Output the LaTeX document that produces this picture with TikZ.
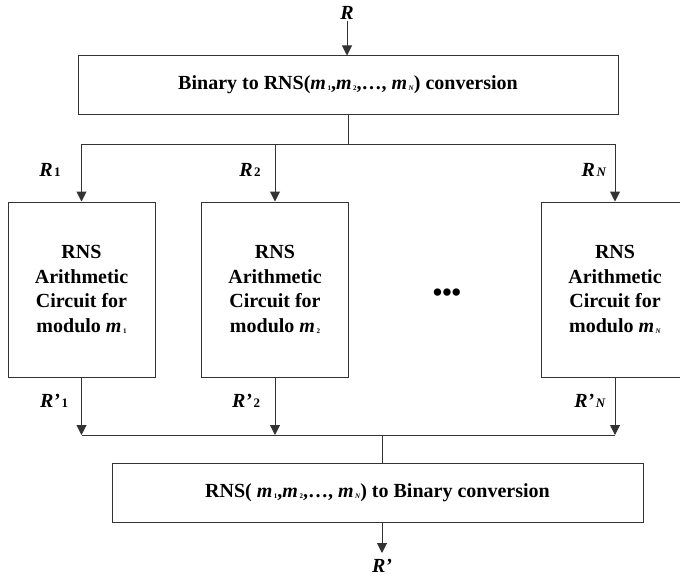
\documentclass[tikz,border=0pt]{standalone}
\usepackage{fontspec}
\setmainfont{Liberation Serif}
\usetikzlibrary{arrows.meta}

% bold italic modulus with a tiny subscript
\newcommand{\bim}{\textbf{\textit{m}}}
\newcommand{\msub}[1]{\bim\hspace{1.5pt}\raisebox{-0.1ex}{\fontsize{7}{7}\selectfont\bfseries #1}}
% bold italic signal name with a small subscript
\newcommand{\rsub}[2]{\textbf{\textit{#1}}\hspace{1.5pt}{\fontsize{13}{13}\selectfont\bfseries #2}}

\begin{document}
\begin{tikzpicture}[x=1pt,y=-1pt,
  wire/.style={draw=black!80,line width=1pt},
  arr/.style={wire,-{Triangle[length=10pt,width=10pt]}},
  block/.style={draw=black!80,line width=1pt,inner sep=0pt,align=center,
                font=\fontsize{20}{24.5}\selectfont\bfseries},
  lbl/.style={inner sep=1pt,font=\fontsize{20}{24}\selectfont\bfseries}]
\useasboundingbox (0,0) rectangle (680,578);

% input and forward conversion
\node[lbl] (rin) at (347,13) {\textit{R}};
\node[block,minimum width=540pt,minimum height=58pt] (conv) at (348,85)
  {Binary to RNS(\msub{1},\msub{2},…, \msub{\textit{N}}) conversion};
\coordinate (split) at (348,144);

% residue channels
\node[block,minimum width=147pt,minimum height=175pt] (c1) at (81.5,289.5)
  {RNS\\Arithmetic\\Circuit for\\modulo \msub{1}};
\node[block,minimum width=147pt,minimum height=175pt] (c2) at (275,289.5)
  {RNS\\Arithmetic\\Circuit for\\modulo \msub{2}};
\node[block,minimum width=147pt,minimum height=175pt] (cN) at (615,289.5)
  {RNS\\Arithmetic\\Circuit for\\modulo \msub{\textit{N}}};
\node[inner sep=0pt,font=\fontsize{27}{27}\selectfont\bfseries] (dots) at (447,295) {•••};

% reverse conversion and output
\coordinate (merge) at (382,435);
\node[block,minimum width=531pt,minimum height=59pt] (back) at (377.5,492.5)
  {RNS( \msub{1},\msub{2},…, \msub{\textit{N}}) to Binary conversion};
\node[lbl,inner sep=0pt] (rout) at (382,566) {\textit{R’}};
\coordinate (outtip) at (382,553);

% channel labels
\node[lbl] (r1) at (50,170) {\rsub{R}{1}};
\node[lbl] (r2) at (250,170) {\rsub{R}{2}};
\node[lbl] (rN) at (594,170) {\rsub{R}{\textit{N}}};
\node[lbl] (q1) at (54,401) {\rsub{R’}{1}};
\node[lbl] (q2) at (246,401) {\rsub{R’}{2}};
\node[lbl] (qN) at (590,401) {\rsub{R’}{\textit{N}}};

% connectors
\draw[arr] (rin.south) -- (rin.south |- conv.north);
\draw[wire] (conv.south -| split) -- (split);
\draw[arr] (split) -| (c1.north);
\draw[arr] (split) -| (c2.north);
\draw[arr] (split) -| (cN.north);

\draw[arr] (c1.south) -- (c1.south |- merge);
\draw[arr] (c2.south) -- (c2.south |- merge);
\draw[arr] (cN.south) -- (cN.south |- merge);
\draw[wire] (c1.south |- merge) -- (cN.south |- merge);
\draw[wire] (merge) -- (merge |- back.north);
\draw[arr] (merge |- back.south) -- (outtip);
\end{tikzpicture}
\end{document}
